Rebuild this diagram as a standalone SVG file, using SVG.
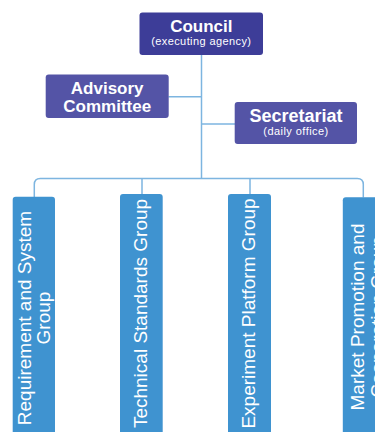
<svg xmlns="http://www.w3.org/2000/svg" width="375" height="432" viewBox="0 0 375 432">
<style>
.conn{fill:none;stroke:#7db5e0;stroke-width:1.5}
.top{fill:#3d3d98}
.mid{fill:#5454a6}
.grp{fill:#3f93d0}
text{font-family:"Liberation Sans",Arial,sans-serif;fill:#ffffff}
.t1{font-size:17px;font-weight:bold;text-anchor:middle}
.t2{font-size:11px;letter-spacing:0.4px;text-anchor:middle}
.tg{font-size:19px;text-anchor:middle}
</style>
<rect width="375" height="432" fill="#ffffff"/>
<g id="connectors">
<path class="conn" d="M201.5 55 V178.5"/>
<path class="conn" d="M168.5 96.7 H201.5"/>
<path class="conn" d="M201.5 124 H235"/>
<path class="conn" d="M34.3 197 V184.5 Q34.3 178.5 40.3 178.5 H357.3 Q363.3 178.5 363.3 184.5 V197.5"/>
<path class="conn" d="M142 178.5 V194.5"/>
<path class="conn" d="M250 178.5 V194.5"/>
</g>
<g id="council">
<rect class="top" x="139.5" y="12.5" width="123.5" height="42.5" rx="3"/>
<text class="t1" x="201.3" y="32">Council</text>
<text class="t2" x="201.3" y="44.5">(executing agency)</text>
</g>
<g id="advisory">
<rect class="mid" x="45.7" y="74.5" width="123" height="43.5" rx="3"/>
<text class="t1" x="107.2" y="94">Advisory</text>
<text class="t1" x="107.2" y="111.7">Committee</text>
</g>
<g id="secretariat">
<rect class="mid" x="234.7" y="102" width="122.3" height="42" rx="3"/>
<text class="t1" x="296" y="121.7" style="font-size:18px">Secretariat</text>
<text class="t2" x="296" y="134.5" style="letter-spacing:0.45px">(daily office)</text>
</g>
<g id="group-requirement">
<rect class="grp" x="12.7" y="196.7" width="42.3" height="245" rx="3"/>
<text class="tg" transform="translate(30.7 318) rotate(-90)" x="0" y="0">Requirement and System</text>
<text class="tg" transform="translate(50 318) rotate(-90)" x="0" y="0">Group</text>
</g>
<g id="group-technical">
<rect class="grp" x="120" y="194" width="42.7" height="245" rx="3"/>
<text class="tg" transform="translate(147 313.5) rotate(-90)" x="0" y="0">Technical Standards Group</text>
</g>
<g id="group-experiment">
<rect class="grp" x="228" y="194" width="43" height="245" rx="3"/>
<text class="tg" transform="translate(255 313.5) rotate(-90)" x="0" y="0">Experiment Platform Group</text>
</g>
<g id="group-market">
<rect class="grp" x="342.8" y="197.3" width="43" height="245" rx="3"/>
<text class="tg" transform="translate(364.3 317) rotate(-90)" x="0" y="0">Market Promotion and</text>
<text class="tg" transform="translate(383.5 317) rotate(-90)" x="0" y="0">Cooperation Group</text>
</g>
</svg>
